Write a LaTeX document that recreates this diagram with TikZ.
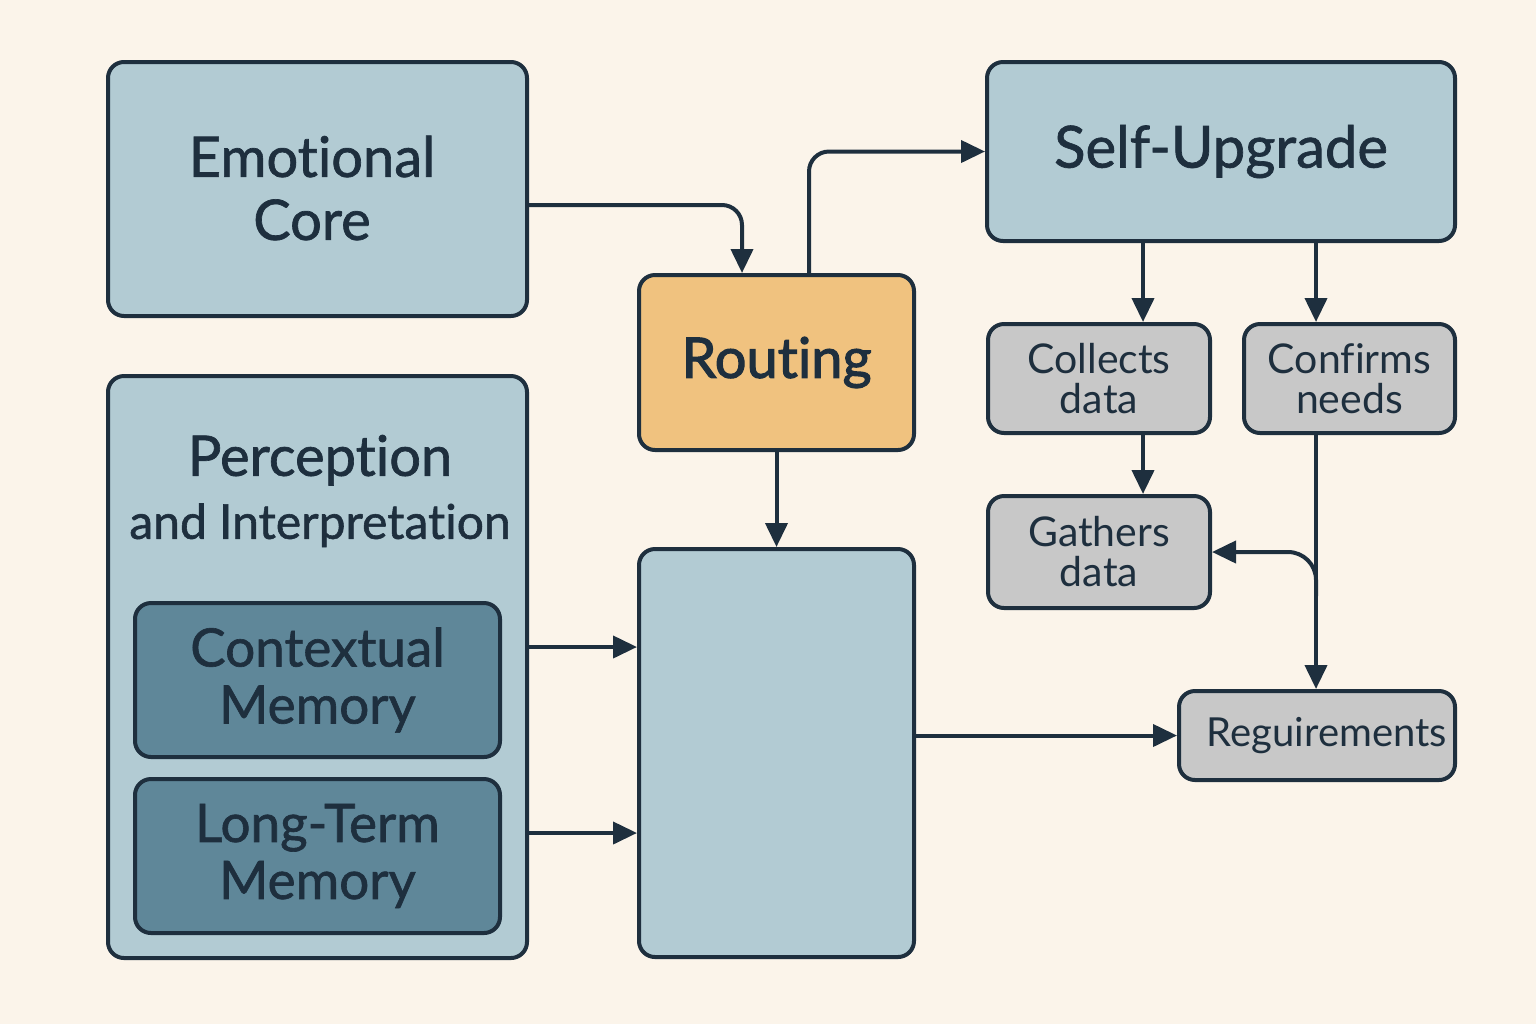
\documentclass[tikz,border=0pt]{standalone}
\usepackage{fontspec}
\setmainfont{Lato}[Ligatures={NoCommon,NoContextual}]
\newfontfamily\medfont{Lato}[FakeBold=1.2,Ligatures={NoCommon,NoContextual}]
\newfontfamily\semifont{Lato}[FakeBold=2,Ligatures={NoCommon,NoContextual}]
\usetikzlibrary{arrows.meta,calc}
\definecolor{bgc}{HTML}{FBF4EA}
\definecolor{bluef}{HTML}{B2CBD3}
\definecolor{darkf}{HTML}{5F8799}
\definecolor{grayf}{HTML}{C8C8C8}
\definecolor{orangef}{HTML}{F0C27F}
\definecolor{ink}{HTML}{1E2F3E}
\tikzset{
  bx/.style={draw=ink, line width=2pt, rounded corners=8pt, text=ink, align=center, inner sep=0pt},
  bluebox/.style={bx, fill=bluef},
  darkbox/.style={bx, fill=darkf},
  graybox/.style={bx, fill=grayf},
  orangebox/.style={bx, fill=orangef},
  arr/.style={draw=ink, line width=2pt, -{Triangle[length=12pt,width=11pt]}, rounded corners=10pt},
}
\begin{document}
\begin{tikzpicture}[x=0.5pt,y=-0.5pt]
\fill[bgc] (0,0) rectangle (1536,1024);
\useasboundingbox (0,0) rectangle (1536,1024);
% left
\node[bluebox, minimum width=209.5pt, minimum height=127pt] (emo) at (317.5,189) {};
\node[text=ink, align=center, font=\medfont\fontsize{28}{31.5}\selectfont] (emot) at (312,188) {Emotional\\Core};
\node[bluebox, minimum width=209.5pt, minimum height=291pt] (perc) at (317.5,667) {};
\node[text=ink, align=center, font=\medfont\fontsize{28}{31.5}\selectfont] (perct) at (320,491) {Perception\\{\fontsize{24}{31.5}\selectfont and Interpretation}};
\node[darkbox, minimum width=182.5pt, minimum height=77pt, font=\medfont\fontsize{26.5}{28.5}\selectfont] (ctx) at (317.5,680) {Contextual\\Memory};
\node[darkbox, minimum width=182.5pt, minimum height=77pt, font=\medfont\fontsize{26.5}{28.5}\selectfont] (ltm) at (317.5,856) {Long-Term\\Memory};
% middle
\node[orangebox, minimum width=137.5pt, minimum height=87.5pt, font=\semifont\fontsize{28}{31.5}\selectfont] (rout) at (776.5,362.5) {Routing};
\node[bluebox, minimum width=137.5pt, minimum height=204pt] (big) at (776.5,753) {};
% right
\node[bluebox, minimum width=234pt, minimum height=89.5pt, font=\medfont\fontsize{29}{31.5}\selectfont] (self) at (1221,151.5) {Self-Upgrade};
\node[graybox, minimum width=111pt, minimum height=54.5pt, font=\fontsize{20.5}{20}\selectfont] (coll) at (1099,378.5) {Collects\\data};
\node[graybox, minimum width=105.5pt, minimum height=54.5pt, font=\fontsize{20.5}{20}\selectfont] (conf) at (1349.5,378.5) {Confirms\\needs};
\node[graybox, minimum width=111pt, minimum height=56pt, font=\fontsize{20.5}{20}\selectfont] (gath) at (1099,552) {Gathers\\data};
\node[graybox, minimum width=138pt, minimum height=44.5pt, font=\fontsize{20}{22}\selectfont, text width=130pt, align=right] (req) at (1317,735.5) {Reguirements};
% connector anchors
\coordinate (e1) at ([yshift=-8pt]emo.east);
\coordinate (r1) at ([xshift=-17.25pt]rout.north);
\coordinate (r2) at ([xshift=16.25pt]rout.north);
\coordinate (c1) at ([xshift=22pt]coll.north);
\coordinate (c2) at ([xshift=22pt]coll.south);
\coordinate (g1) at ([xshift=22pt]gath.north);
\coordinate (f1) at ([xshift=-16.75pt]conf.north);
\coordinate (f2) at ([xshift=-16.75pt]conf.south);
\coordinate (p1) at ([yshift=10pt]perc.east);
\coordinate (p2) at ([yshift=-83pt]perc.east);
\coordinate (br) at ($(f2 |- gath.east)+(0,-22pt)$);
% connectors
\draw[arr] (e1) -| (r1);
\draw[arr] (r2) |- (self.west);
\draw[arr] (rout.south) -- (big.north);
\draw[arr] (c1 |- self.south) -- (c1);
\draw[arr] (f1 |- self.south) -- (f1);
\draw[arr] (c2) -- (g1);
\draw[arr] (f2) -- (f2 |- req.north);
\draw[arr, rounded corners=14pt] (br) |- (gath.east);
\draw[arr] (p1) -- (p1 -| big.west);
\draw[arr] (p2) -- (p2 -| big.west);
\draw[arr] (big.east |- req.west) -- (req.west);
\end{tikzpicture}
\end{document}
